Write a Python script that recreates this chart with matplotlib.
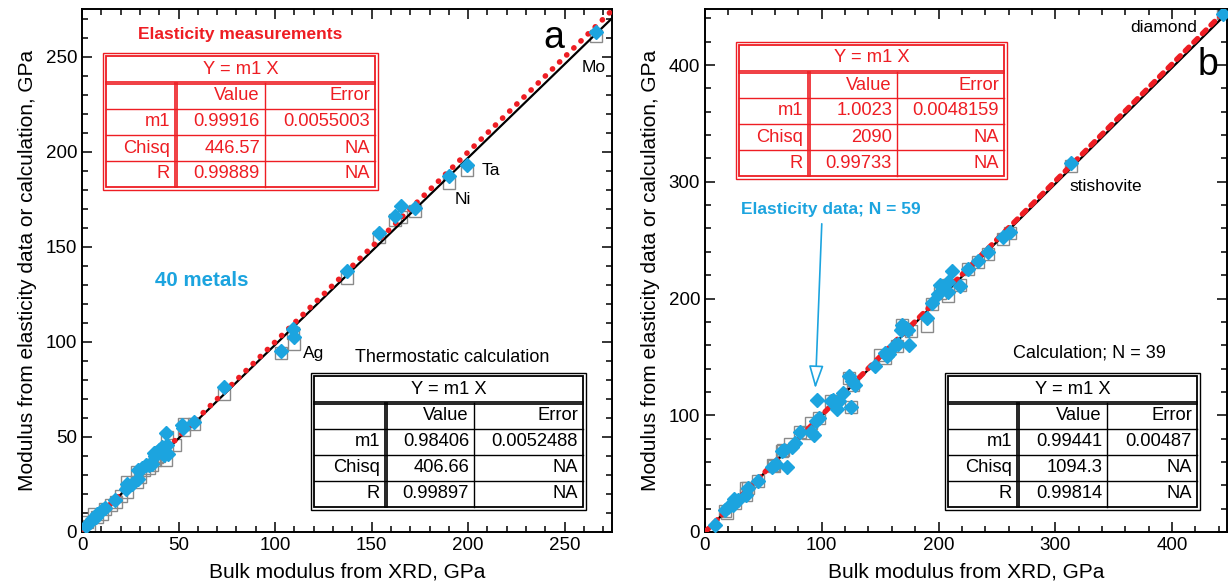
import matplotlib
matplotlib.use("Agg")
import matplotlib.pyplot as plt
from matplotlib.lines import Line2D
from matplotlib.patches import Rectangle
from matplotlib.ticker import MultipleLocator

plt.rcParams['font.family'] = ['Liberation Sans', 'DejaVu Sans']

# ---- panel a: 40 metals ----
a_el_x = [1.9, 4, 5.3, 7, 8, 10.5, 12, 17.1, 22.6, 23.5, 26, 29.2, 29.2, 31.2, 33, 34.7, 36, 37.3, 38,
          39.9, 41.6, 42.5, 44.2, 43.7, 44.5, 52, 52.5, 58, 73.6, 103.2, 109.5, 110, 137, 153.6,
          162.3, 165.4, 172.7, 190, 199.6, 266]
a_el_y = [3, 5, 7, 8, 9.7, 11.4, 12.5, 16.7, 22.8, 25.5, 25.5, 28.1, 32.8, 33.4, 35, 35.1, 36, 41.3, 40,
          43, 44.7, 40.4, 45.6, 52.1, 41, 56.2, 54.5, 57.9, 76, 95.1, 107, 102.6, 137.4, 157,
          166.3, 171.3, 170.6, 187.2, 192.8, 262.8]
a_th_x = [2.7, 3.5, 6.2, 8, 10.5, 12, 15, 17.5, 20, 23.5, 23.5, 28.7, 28.7, 30, 32.1, 34.7, 36, 38,
          39, 40, 41, 43.4, 44.2, 44, 48, 52.8, 53, 58, 73.6, 103.2, 109.5, 110, 137, 153.6,
          162.3, 165.4, 172.7, 190, 199.6, 266]
a_th_y = [5.3, 3, 9.3, 8, 9.7, 12, 14, 15.8, 19, 21, 26.5, 26.3, 31.6, 29, 32.5, 33.4, 35, 38,
          39.5, 40, 42, 37.7, 50, 44, 46, 53.5, 57, 57, 72.8, 94.2, 104.7, 99.1, 133.4, 155.2,
          164, 165.4, 168.9, 183.6, 190.6, 261]
a_m_el = 0.99916
a_m_th = 0.98406
a_tab_el = [["m1", "0.99916", "0.0055003"], ["Chisq", "446.57", "NA"], ["R", "0.99889", "NA"]]
a_tab_th = [["m1", "0.98406", "0.0052488"], ["Chisq", "406.66", "NA"], ["R", "0.99897", "NA"]]

# ---- panel b: elasticity N = 59, calculation N = 39 ----
b_el_x = [8.5, 17, 20, 24, 25, 28, 35.5, 37, 45, 57.5, 61, 65.6, 68, 70, 74.5, 77, 81, 91, 93,
          95, 98, 96, 108, 110, 111.7, 113, 115, 118.4, 123.5, 126, 128.6, 125, 146, 154,
          155.7, 157.4, 162.4, 165, 167.5, 169, 170, 172, 174, 175, 190.5, 194.6, 199.7,
          201.4, 208, 208, 211.5, 218, 225, 233.5, 242, 255.5, 261, 313, 444]
b_el_y = [6.3, 19, 21, 23, 28, 27, 32, 38, 44, 56, 58, 69, 70.6, 56, 73, 76, 86, 86, 83.4,
          95, 97.7, 113, 112.6, 113, 110.6, 105.7, 112.6, 119, 133.4, 129, 126, 107, 142, 153.4,
          150.6, 152.6, 160.6, 161, 173.4, 177.7, 176, 174.9, 173.4, 160.6, 183, 196.3, 204,
          212, 214, 206, 223.9, 211, 225.3, 232.5, 239.7, 252.6, 257, 315.8, 443.7]
b_th_x = [17, 18.5, 25.4, 35.5, 35.5, 37, 45, 58, 59, 66, 67, 72.8, 81, 88.4, 91, 98, 108, 123.5,
          127, 125, 154, 164, 169, 176, 190.5, 194.6, 201.4, 208, 208, 218, 225, 233.5, 242,
          255.5, 261, 313, 444, 150, 172]
b_th_y = [18, 16.3, 25, 32, 37.7, 37.6, 43.4, 57.7, 56.3, 69, 70.5, 75, 86, 85, 93.4, 97.7, 112.6, 132,
          126, 107, 149, 159, 177.7, 172, 176.3, 195, 205, 202, 212, 211.4, 225.3, 231, 238,
          251, 256, 313.5, 445, 152, 174]
b_m_el = 1.0023
b_m_th = 0.99441
b_tab_el = [["m1", "1.0023", "0.0048159"], ["Chisq", "2090", "NA"], ["R", "0.99733", "NA"]]
b_tab_th = [["m1", "0.99441", "0.00487"], ["Chisq", "1094.3", "NA"], ["R", "0.99814", "NA"]]

CYAN = '#1ca4df'
RED = '#ee1d23'
GRAY = '#8a8a8a'
W, H = 1228, 588

fig = plt.figure(figsize=(W / 100, H / 100), dpi=100)


def fx(x):
    return x / W


def fy(y):
    return 1 - y / H


def hline(x0, x1, y, color, lw=1.0):
    fig.add_artist(Line2D([fx(x0), fx(x1)], [fy(y), fy(y)], color=color, lw=lw, zorder=5))


def vline(x, y0, y1, color, lw=1.0):
    fig.add_artist(Line2D([fx(x), fx(x)], [fy(y0), fy(y1)], color=color, lw=lw, zorder=5))


def draw_table(x0, y0, x1, c1, c2, color, rows):
    # outer frame (double line) in pixel units
    y1 = y0 + 137
    fig.add_artist(Rectangle((fx(x0), fy(y1)), fx(x1 - x0), (y1 - y0) / H, fc='white',
                             ec=color, lw=1.0, zorder=4))
    fig.add_artist(Rectangle((fx(x0 + 3), fy(y1 - 3)), fx(x1 - x0 - 6), (y1 - y0 - 6) / H,
                             fc='none', ec=color, lw=1.3, zorder=5))
    xi0, xi1 = x0 + 3, x1 - 3
    ys = [y0 + 30, y0 + 56, y0 + 82, y0 + 108]
    hline(xi0, xi1, ys[0] - 1, color, 1.2)
    hline(xi0, xi1, ys[0] + 1, color, 1.2)
    for yy in ys[1:]:
        hline(xi0, xi1, yy, color, 1.0)
    vline(c1 - 1, ys[0], y1 - 3, color, 1.2)
    vline(c1 + 1, ys[0], y1 - 3, color, 1.2)
    vline(c2, ys[0], y1 - 3, color, 1.0)
    kw = dict(color=color, fontsize=13.2, va='center', zorder=6)
    fig.text(fx((xi0 + xi1) / 2), fy(y0 + 16), "Y = m1 X", ha='center', **kw)
    fig.text(fx(c2 - 5), fy(y0 + 43), "Value", ha='right', **kw)
    fig.text(fx(xi1 - 5), fy(y0 + 43), "Error", ha='right', **kw)
    for i, (name, val, err) in enumerate(rows):
        yc = y0 + 69 + 26 * i
        fig.text(fx(c1 - 6), fy(yc), name, ha='right', **kw)
        fig.text(fx(c2 - 5), fy(yc), val, ha='right', **kw)
        fig.text(fx(xi1 - 5), fy(yc), err, ha='right', **kw)


def style_axes(ax, major, minor):
    ax.xaxis.set_major_locator(MultipleLocator(major))
    ax.xaxis.set_minor_locator(MultipleLocator(minor))
    ax.yaxis.set_major_locator(MultipleLocator(major))
    ax.yaxis.set_minor_locator(MultipleLocator(minor))
    ax.tick_params(which='both', direction='in', top=True, right=True, labelsize=13.5, width=1.1)
    ax.tick_params(which='major', length=7)
    ax.tick_params(which='minor', length=4)
    for s in ax.spines.values():
        s.set_linewidth(1.4)
    ax.set_xlabel("Bulk modulus from XRD, GPa", fontsize=15, labelpad=6)
    ax.set_ylabel("Modulus from elasticity data or calculation, GPa", fontsize=15, labelpad=6)


# ---------- panel a ----------
ax1 = fig.add_axes([fx(82), fy(532), (612 - 82) / W, (532 - 9) / H])
ax1.set_xlim(0, 274.5)
ax1.set_ylim(0, 275)
style_axes(ax1, 50, 10)
ax1.plot(a_th_x, a_th_y, 's', ms=8.5, mfc='none', mec=GRAY, mew=1.0, zorder=2)
xx = [0, 274.5]
ax1.plot(xx, [a_m_th * v for v in xx], color='black', lw=1.6, zorder=3)
ax1.plot(xx, [a_m_el * v for v in xx], color=RED, lw=4, ls=(0, (0.05, 1.75)),
         dash_capstyle='round', zorder=3)
ax1.plot(a_el_x, a_el_y, 'D', ms=6.8, color=CYAN, mec=CYAN, zorder=4)
ax1.text(244.5, 260, "a", fontsize=27, ha='center', va='center')
ax1.text(265, 244, "Mo", fontsize=12.5, ha='center', va='center')
ax1.text(212, 190, "Ta", fontsize=12.5, ha='center', va='center')
ax1.text(197, 175, "Ni", fontsize=12.5, ha='center', va='center')
ax1.text(120, 94, "Ag", fontsize=12.5, ha='center', va='center')
ax1.text(62, 132, "40 metals", fontsize=14.8, fontweight='bold', color=CYAN,
         ha='center', va='center')
fig.text(fx(240), fy(34), "Elasticity measurements", fontsize=12.5, fontweight='bold',
         color=RED, ha='center', va='center')
fig.text(fx(452), fy(358), "Thermostatic calculation", fontsize=13,
         color='black', ha='center', va='center')
draw_table(103, 53, 378, 176, 265, RED, a_tab_el)
draw_table(311, 373, 586, 386, 474, 'black', a_tab_th)

# ---------- panel b ----------
ax2 = fig.add_axes([fx(705), fy(532), (1227 - 705) / W, (532 - 9) / H])
ax2.set_xlim(0, 447)
ax2.set_ylim(0, 448)
style_axes(ax2, 100, 20)
ax2.plot(b_th_x, b_th_y, 's', ms=8.5, mfc='none', mec=GRAY, mew=1.0, zorder=2)
xx = [0, 447]
ax2.plot(xx, [b_m_th * v for v in xx], color='black', lw=1.6, zorder=3)
ax2.plot(xx, [b_m_el * v for v in xx], color=RED, lw=3.8, ls=(0, (1.0, 1.3)),
         dash_capstyle='round', zorder=3)
ax2.plot(b_el_x, b_el_y, 'D', ms=6.8, color=CYAN, mec=CYAN, zorder=4)
ax2.text(431, 400, "b", fontsize=27, ha='center', va='center')
ax2.text(393, 432, "diamond", fontsize=12.5, ha='center', va='center')
ax2.text(343, 296, "stishovite", fontsize=12.5, ha='center', va='center')
ax2.text(108, 276, "Elasticity data; N = 59", fontsize=12.5, fontweight='bold', color=CYAN,
         ha='center', va='center')
ax2.annotate("", xy=(94.5, 123), xytext=(100, 264),
             arrowprops=dict(arrowstyle='-|>,head_length=1.4,head_width=0.45', ec=CYAN,
                             fc='white', lw=1.2, shrinkA=0, shrinkB=0))
fig.text(fx(1089), fy(353), "Calculation; N = 39", fontsize=13,
         color='black', ha='center', va='center')
draw_table(736, 42, 1007, 809, 897, RED, b_tab_el)
draw_table(945, 373, 1200, 1018, 1107, 'black', b_tab_th)

fig.savefig("out.png", dpi=100)
